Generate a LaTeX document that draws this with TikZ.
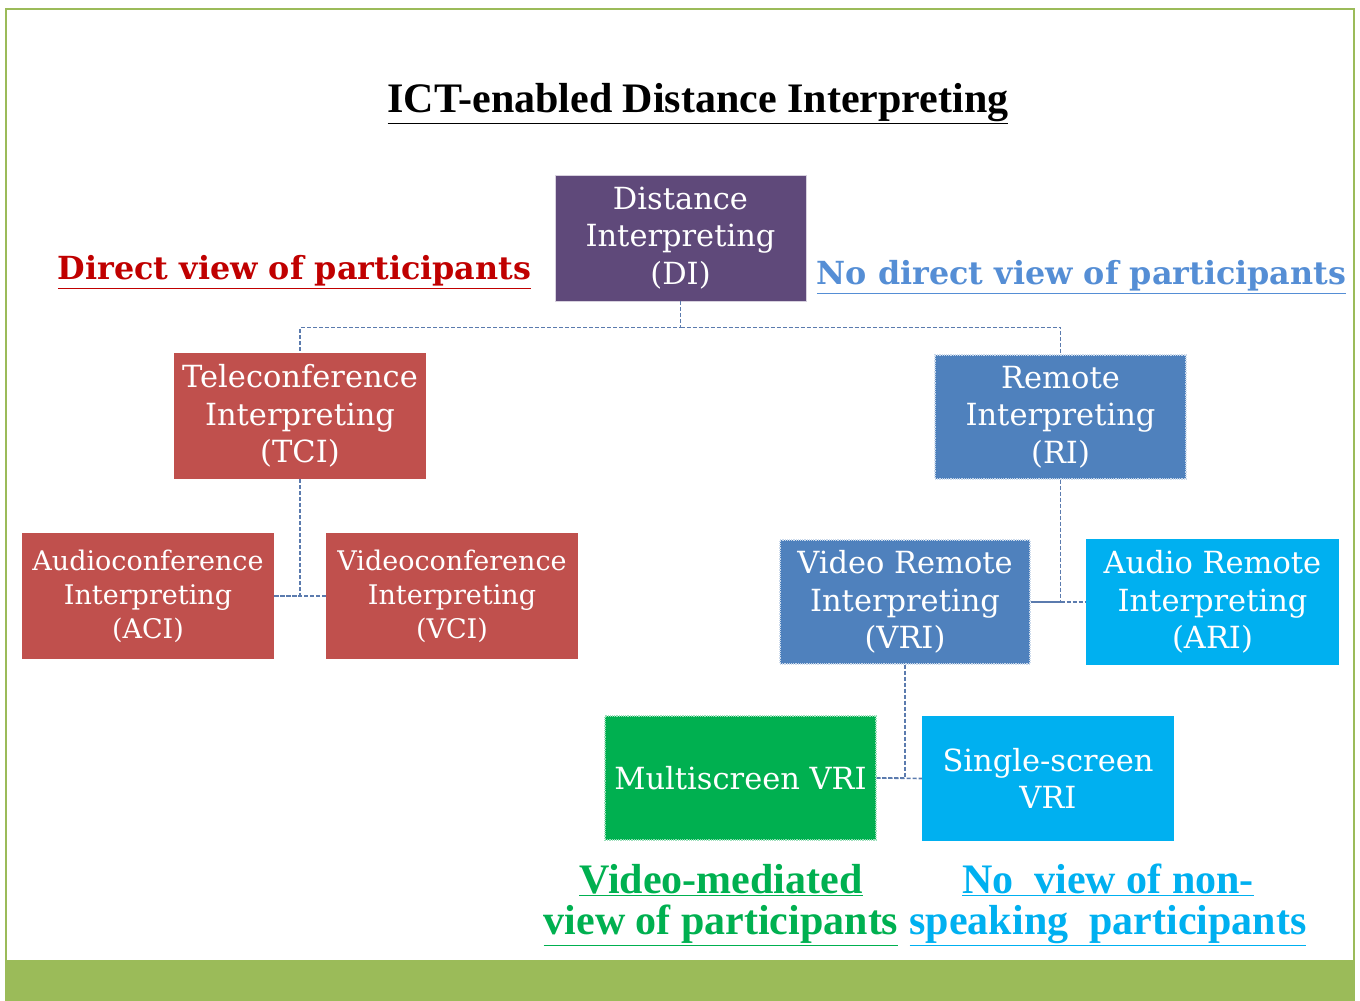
\documentclass[tikz,border=0pt]{standalone}
\usepackage{fontspec}
\usetikzlibrary{calc}
\setmainfont{DejaVu Serif}
\newfontfamily\headfont{Liberation Serif}
\definecolor{dipurple}{HTML}{5F497A}
\definecolor{boxred}{HTML}{C0504D}
\definecolor{boxblue}{HTML}{4F81BD}
\definecolor{boxcyan}{HTML}{00B0F0}
\definecolor{boxgreen}{HTML}{00B050}
\definecolor{headred}{HTML}{C00000}
\definecolor{headblue}{HTML}{558ED5}
\definecolor{connblue}{HTML}{5B7BAE}
\definecolor{framegreen}{HTML}{9BBB59}
\tikzset{
  box/.style={rectangle, inner sep=0pt, align=center, text=white,
    font=\fontsize{30.5}{37.5}\selectfont, minimum width=252pt, minimum height=126pt},
  smallbox/.style={box, font=\fontsize{27}{34}\selectfont},
  dotbox/.style={draw=white!70!boxblue, densely dotted, line width=1.2pt},
  conn/.style={draw=connblue, dashed, line width=1.6pt, dash pattern=on 4pt off 2pt},
  headlbl/.style={inner sep=0pt, font=\bfseries\fontsize{31.8}{34}\selectfont},
  condlbl/.style={inner sep=0pt, align=center, font=\headfont\bfseries\fontsize{42}{41.5}\selectfont}
}
\begin{document}
\begin{tikzpicture}[x=1pt, y=-1pt]
\useasboundingbox (0,0) rectangle (1360,1001);
% frame
\fill[framegreen] (6,960) rectangle (1354,1001);
\draw[framegreen, line width=2pt] (6,1001) -- (6,9) -- (1354,9) -- (1354,1001);
% title
\node[condlbl, text=black] (title) at (698,104) {\underline{ICT-enabled Distance Interpreting}};
% boxes
\node[box, fill=dipurple, draw=white!75!dipurple, line width=0.8pt, minimum width=251pt] (DI) at (680.5,238) {Distance\\Interpreting\\(DI)};
\node[box, fill=boxred] (TCI) at (300,416) {Teleconference\\Interpreting\\(TCI)};
\node[box, fill=boxblue, dotbox, minimum width=251pt, minimum height=124pt] (RI) at (1060.5,417) {Remote\\Interpreting\\(RI)};
\node[smallbox, fill=boxred] (ACI) at (148,596) {Audioconference\\Interpreting\\(ACI)};
\node[smallbox, fill=boxred] (VCI) at (452,596) {Videoconference\\Interpreting\\(VCI)};
\node[box, fill=boxblue, dotbox, minimum width=250pt, minimum height=124pt] (VRI) at (905,602) {Video Remote\\Interpreting\\(VRI)};
\node[box, fill=boxcyan, minimum width=253pt] (ARI) at (1212.5,602) {Audio Remote\\Interpreting\\(ARI)};
\node[box, fill=boxgreen, draw=white!60!boxgreen, densely dotted, line width=1.2pt, minimum width=271pt, minimum height=124pt] (MVRI) at (740.5,778) {Multiscreen VRI};
\node[box, fill=boxcyan, minimum height=125pt] (SVRI) at (1048,778.5) {Single-screen\\VRI};
% labels
\node[headlbl, text=headred] (direct) at (294.5,272) {\underline{Direct view of participants}};
\node[headlbl, text=headblue] (nodirect) at (1081.5,277) {\underline{No direct view of participants}};
\node[condlbl, text=boxgreen] (vmed) at (721,905) {\underline{Video-mediated}\\\underline{view of participants}};
\node[condlbl, text=boxcyan] (noview) at (1108,905) {\underline{No\ \ view of non-}\\\underline{speaking\ \ participants}};
% connectors
\coordinate (split) at ($(DI.south)+(0,26)$);
\draw[conn] (DI.south) -- (split) -| (TCI.north);
\draw[conn] (split) -| (RI.north);
\draw[conn] (TCI.south) |- (ACI.east);
\draw[conn] (ACI.east) -- (VCI.west);
\draw[conn] (RI.south) |- (VRI.east);
\draw[conn] (VRI.east) -- (ARI.west);
\draw[conn] (VRI.south) |- (MVRI.east);
\draw[conn] (MVRI.east) -- (SVRI.west);
\end{tikzpicture}
\end{document}
